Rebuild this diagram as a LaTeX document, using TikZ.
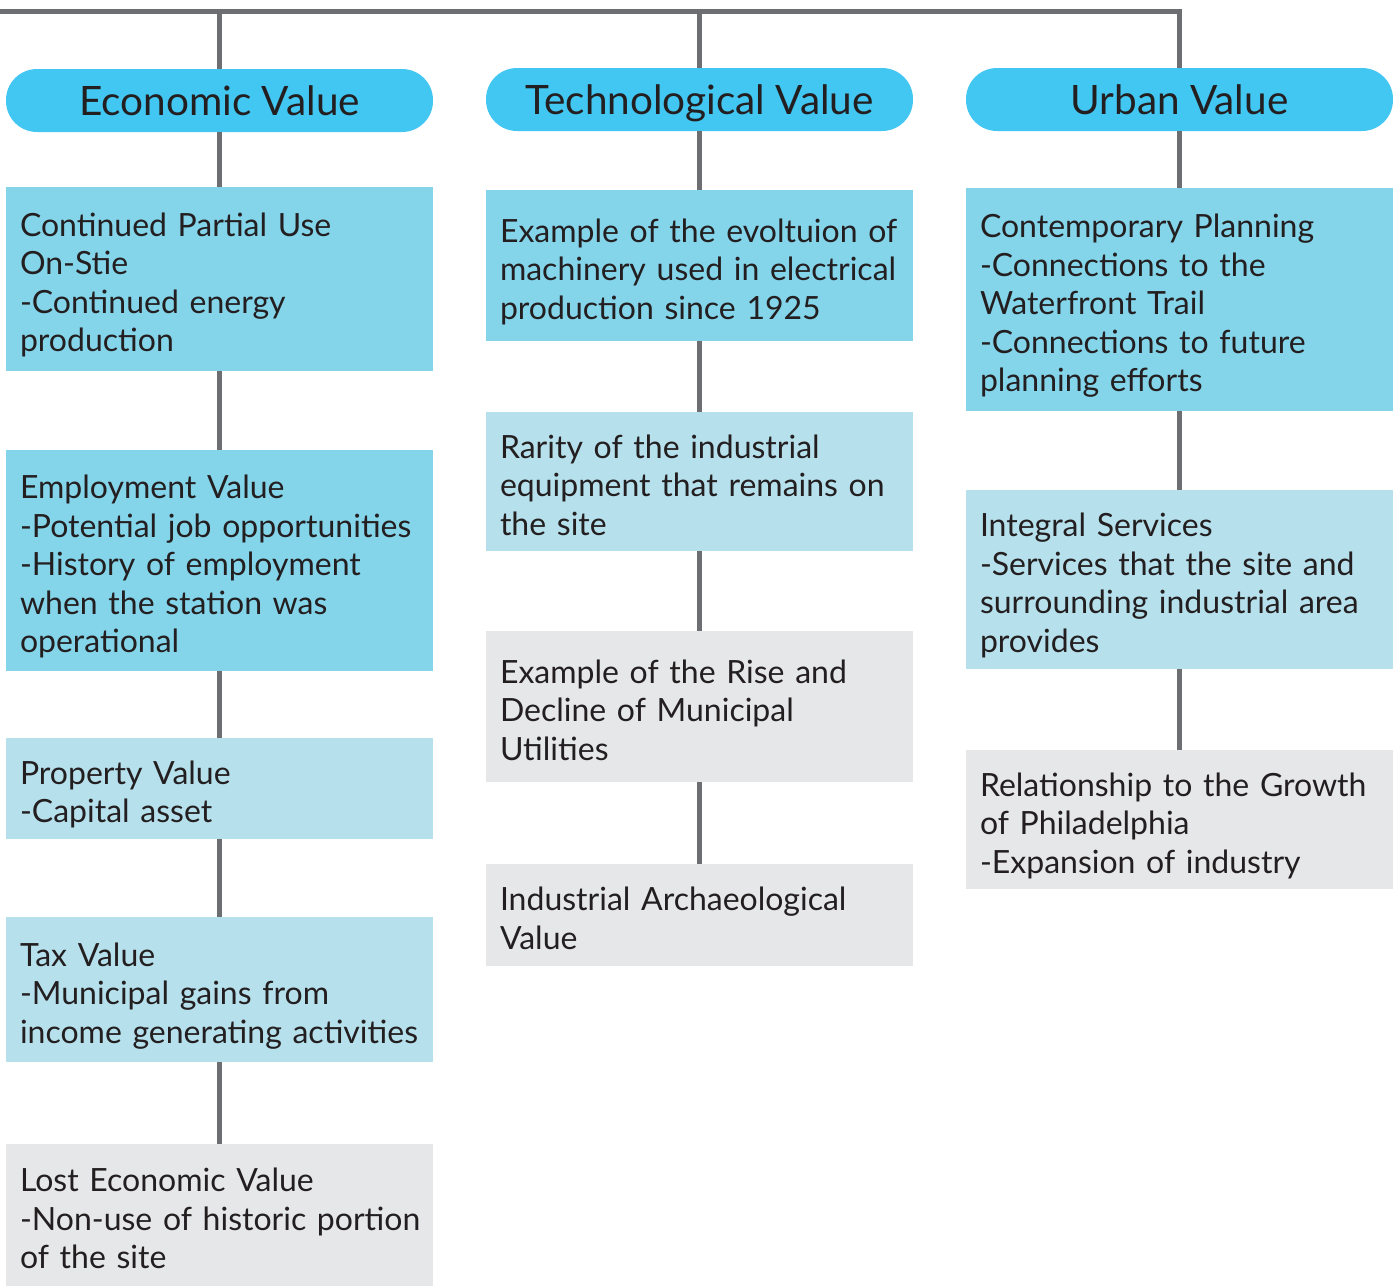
\documentclass[tikz,border=0pt]{standalone}
\usepackage{fontspec}
\setmainfont{Lato}
\definecolor{pillblue}{HTML}{42C6F2}
\definecolor{boxdark}{HTML}{84D4EA}
\definecolor{boxlight}{HTML}{B6E0EC}
\definecolor{boxgray}{HTML}{E6E7E8}
\definecolor{linkgray}{HTML}{6D6E71}
\definecolor{inkdark}{HTML}{231F20}
\tikzset{
  x=1pt, y=-1pt,
  pill/.style={rectangle, rounded corners=31pt, fill=pillblue, text=inkdark,
    minimum width=427pt, minimum height=63pt, inner sep=0pt,
    text height=29pt, text depth=0pt,
    font=\fontsize{40.5}{46}\selectfont},
  card/.style={rectangle, text=inkdark, minimum width=427pt, inner xsep=3.5pt, inner ysep=0pt,
    text width=420pt, align=left, font=\fontsize{32}{38.5}\selectfont,
    execute at begin node={\leftskip=10.5pt\relax\hyphenpenalty=10000\exhyphenpenalty=10000\rule{0pt}{38pt}},
    execute at end node={\rule[-8pt]{0pt}{8pt}}},
  darkcard/.style={card, fill=boxdark},
  lightcard/.style={card, fill=boxlight},
  graycard/.style={card, fill=boxgray},
  link/.style={draw=linkgray, line width=5pt}
}
\begin{document}
\begin{tikzpicture}
\useasboundingbox (0,0) rectangle (1393,1286);
\fill[white] (0,0) rectangle (1393,1286);

% headings
\node[pill] (p1) at (219.5,100.5) {Economic Value};
\node[pill] (p2) at (699.5,99.5) {Technological Value};
\node[pill] (p3) at (1179.5,99.5) {Urban Value};

% economic column
\node[darkcard, minimum height=184pt] (a1) at (219.5,279) {Continued Partial Use\\On-Stie\\-Continued energy\\production};
\node[darkcard, minimum height=221pt] (a2) at (219.5,560.5) {Employment Value\\-Potential job opportunities\\-History of employment\\when the station was\\operational};
\node[lightcard, minimum height=101pt] (a3) at (219.5,788.5) {Property Value\\-Capital asset};
\node[lightcard, minimum height=145pt] (a4) at (219.5,989.5) {Tax Value\\-Municipal gains from\\income generating activities};
\node[graycard, minimum height=142pt] (a5) at (219.5,1215) {Lost Economic Value\\-Non-use of historic portion\\of the site};

% technological column
\node[darkcard, minimum height=151pt] (b1) at (699.5,265.5) {Example of the evoltuion of\\machinery used in electrical\\production since 1925};
\node[lightcard, minimum height=139pt] (b2) at (699.5,481.5) {Rarity of the industrial\\equipment that remains on\\the site};
\node[graycard, minimum height=151pt] (b3) at (699.5,706.5) {Example of the Rise and\\Decline of Municipal\\Utilities};
\node[graycard, minimum height=102pt] (b4) at (699.5,915) {Industrial Archaeological\\Value};

% urban column
\node[darkcard, minimum height=223pt] (c1) at (1179.5,299.5) {Contemporary Planning\\-Connections to the\\Waterfront Trail\\-Connections to future\\planning efforts};
\node[lightcard, minimum height=179pt] (c2) at (1179.5,579.5) {Integral Services\\-Services that the site and\\surrounding industrial area\\provides};
\node[graycard, minimum height=139pt] (c3) at (1179.5,819.5) {Relationship to the Growth\\of Philadelphia\\-Expansion of industry};

% top bar
\coordinate (tl) at (0,11);
\draw[link] (tl) -- (p3.north |- tl) -- (p3.north);
\draw[link] (p1.north |- tl) -- (p1.north);
\draw[link] (p2.north |- tl) -- (p2.north);

% column links
\draw[link] (p1) -- (a1);
\draw[link] (a1) -- (a2);
\draw[link] (a2) -- (a3);
\draw[link] (a3) -- (a4);
\draw[link] (a4) -- (a5);
\draw[link] (p2) -- (b1);
\draw[link] (b1) -- (b2);
\draw[link] (b2) -- (b3);
\draw[link] (b3) -- (b4);
\draw[link] (p3) -- (c1);
\draw[link] (c1) -- (c2);
\draw[link] (c2) -- (c3);
\end{tikzpicture}
\end{document}
